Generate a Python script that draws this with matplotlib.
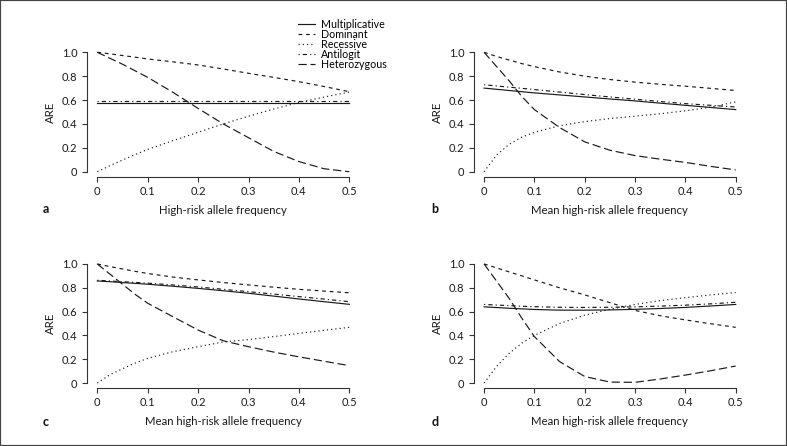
import matplotlib
matplotlib.use("Agg")
import matplotlib.pyplot as plt
from matplotlib.patches import Rectangle
from matplotlib.lines import Line2D

plt.rcParams['font.family'] = ['Lato', 'DejaVu Sans']

# ---- data -------------------------------------------------------------
freq = [0, 0.025, 0.05, 0.075, 0.1, 0.15, 0.2, 0.25, 0.3, 0.35, 0.4, 0.45, 0.5]

mult_a = [0.572] * 13
dom_a = [1.0, 0.987, 0.973, 0.959, 0.944, 0.92, 0.894, 0.86, 0.824, 0.79, 0.754, 0.713, 0.67]
rec_a = [0.0, 0.05, 0.098, 0.143, 0.187, 0.26, 0.33, 0.40, 0.465, 0.525, 0.58, 0.625, 0.667]
anti_a = [0.588] * 13
het_a = [1.0, 0.95, 0.90, 0.845, 0.79, 0.665, 0.53, 0.40, 0.285, 0.17, 0.085, 0.025, 0.0]

mult_b = [0.70, 0.69, 0.68, 0.67, 0.66, 0.643, 0.626, 0.609, 0.593, 0.574, 0.556, 0.538, 0.52]
dom_b = [1.0, 0.965, 0.935, 0.905, 0.88, 0.835, 0.80, 0.772, 0.75, 0.732, 0.716, 0.698, 0.68]
rec_b = [0.0, 0.14, 0.23, 0.29, 0.33, 0.385, 0.42, 0.445, 0.465, 0.485, 0.51, 0.54, 0.585]
anti_b = [0.728, 0.718, 0.708, 0.698, 0.688, 0.667, 0.646, 0.626, 0.607, 0.588, 0.57, 0.556, 0.542]
het_b = [1.0, 0.88, 0.76, 0.63, 0.52, 0.37, 0.25, 0.18, 0.135, 0.105, 0.078, 0.045, 0.015]

mult_c = [0.857, 0.851, 0.844, 0.837, 0.83, 0.813, 0.795, 0.775, 0.754, 0.73, 0.706, 0.683, 0.661]
dom_c = [1.0, 0.978, 0.958, 0.938, 0.92, 0.89, 0.866, 0.844, 0.824, 0.805, 0.787, 0.772, 0.758]
rec_c = [0.0, 0.07, 0.12, 0.168, 0.207, 0.263, 0.305, 0.345, 0.365, 0.39, 0.417, 0.443, 0.468]
anti_c = [0.863, 0.857, 0.851, 0.845, 0.839, 0.824, 0.807, 0.787, 0.767, 0.747, 0.726, 0.705, 0.683]
het_c = [1.0, 0.915, 0.83, 0.745, 0.67, 0.557, 0.445, 0.355, 0.305, 0.26, 0.22, 0.183, 0.146]

mult_d = [0.64, 0.634, 0.628, 0.623, 0.618, 0.612, 0.612, 0.614, 0.619, 0.626, 0.635, 0.647, 0.66]
dom_d = [1.0, 0.967, 0.933, 0.9, 0.866, 0.80, 0.74, 0.675, 0.61, 0.565, 0.53, 0.498, 0.468]
rec_d = [0.0, 0.14, 0.25, 0.335, 0.40, 0.50, 0.57, 0.62, 0.66, 0.692, 0.717, 0.74, 0.76]
anti_d = [0.66, 0.655, 0.65, 0.645, 0.641, 0.636, 0.635, 0.636, 0.64, 0.646, 0.654, 0.665, 0.678]
het_d = [1.0, 0.855, 0.71, 0.545, 0.39, 0.18, 0.055, 0.008, 0.006, 0.034, 0.067, 0.103, 0.143]

series_names = ["Multiplicative", "Dominant", "Recessive", "Antilogit", "Heterozygous"]
panel_letters = ["a", "b", "c", "d"]
xlabels = ["High-risk allele frequency", "Mean high-risk allele frequency",
           "Mean high-risk allele frequency", "Mean high-risk allele frequency"]
xticks = [0, 0.1, 0.2, 0.3, 0.4, 0.5]
xticklabels = ["0", "0.1", "0.2", "0.3", "0.4", "0.5"]
yticks = [0, 0.2, 0.4, 0.6, 0.8, 1.0]
yticklabels = ["0", "0.2", "0.4", "0.6", "0.8", "1.0"]

panels = [
    [mult_a, dom_a, rec_a, anti_a, het_a],
    [mult_b, dom_b, rec_b, anti_b, het_b],
    [mult_c, dom_c, rec_c, anti_c, het_c],
    [mult_d, dom_d, rec_d, anti_d, het_d],
]

# ---- styles -----------------------------------------------------------
LW = 0.85
COL = "#1a1a1a"
styles = [
    dict(linestyle="-"),
    dict(linestyle=(0, (3.2, 3.2))),
    dict(linestyle=(0, (1.0, 2.6))),
    dict(linestyle=(0, (1.0, 2.6, 3.6, 2.6))),
    dict(linestyle=(0, (7.0, 3.2))),
]

W, H = 787, 446
fig = plt.figure(figsize=(W / 100, H / 100), dpi=100)

FS_TICK = 8.0
FS_LAB = 8.2
FS_LEG = 7.7

# axes rectangles in pixels: left, top, right, bottom
rects = [
    (87.2, 47.5, 359.4, 176.5),
    (474.0, 47.5, 745.8, 176.5),
    (87.2, 259.2, 359.4, 387.8),
    (474.0, 259.2, 745.8, 387.8),
]
letter_pos = [(46, 209), (435, 209), (46, 422), (435, 422)]

axes = []
for i, (l, t, r, b) in enumerate(rects):
    ax = fig.add_axes([l / W, 1 - b / H, (r - l) / W, (b - t) / H])
    axes.append(ax)
    for j, ys in enumerate(panels[i]):
        ax.plot(freq, ys, color=COL, lw=LW, label=series_names[j], **styles[j])
    ax.set_xlim(-0.02, 0.52)
    ax.set_ylim(-0.04, 1.04)
    for s in ("top", "right"):
        ax.spines[s].set_visible(False)
    for s in ("left", "bottom"):
        ax.spines[s].set_color("#333333")
        ax.spines[s].set_linewidth(0.8)
    ax.spines["left"].set_bounds(0, 1)
    ax.spines["bottom"].set_bounds(0, 0.5)
    ax.set_xticks(xticks)
    ax.set_xticklabels(xticklabels)
    ax.set_yticks(yticks)
    ax.set_yticklabels(yticklabels)
    ax.tick_params(axis="both", direction="out", length=3.4, width=0.8,
                   color="#333333", labelsize=FS_TICK, labelcolor="#1a1a1a")
    ax.tick_params(axis="x", pad=3.2)
    ax.tick_params(axis="y", pad=3.6)
    ax.set_facecolor("none")
    # axis labels
    cx = (l + r) / 2
    fig.text(cx / W, 1 - (b + 33.5) / H, xlabels[i], ha="center", va="center",
             fontsize=FS_LAB, color="#1a1a1a")
    fig.text((l - 37) / W, 1 - ((t + b) / 2) / H, "ARE", ha="center", va="center",
             rotation=90, fontsize=FS_LAB, color="#1a1a1a")
    lx, ly = letter_pos[i]
    fig.text(lx / W, 1 - ly / H, panel_letters[i], ha="center", va="center",
             fontsize=FS_LAB + 0.8, fontweight="bold", color="#111111")

# legend
handles = [Line2D([0], [0], color=COL, lw=LW, **styles[j]) for j in range(5)]
fig.legend(handles, series_names, loc="upper left",
           bbox_to_anchor=(298 / W, 1 - 19.0 / H), frameon=False,
           fontsize=FS_LEG, handlelength=1.6, handletextpad=0.55,
           labelspacing=-0.1, borderpad=0, borderaxespad=0)

# outer frame
fig.patches.append(Rectangle((0, 0), 1, 1, transform=fig.transFigure,
                             fill=False, edgecolor="#444444", linewidth=1.6,
                             clip_on=False))

fig.savefig("out.png", dpi=100)
